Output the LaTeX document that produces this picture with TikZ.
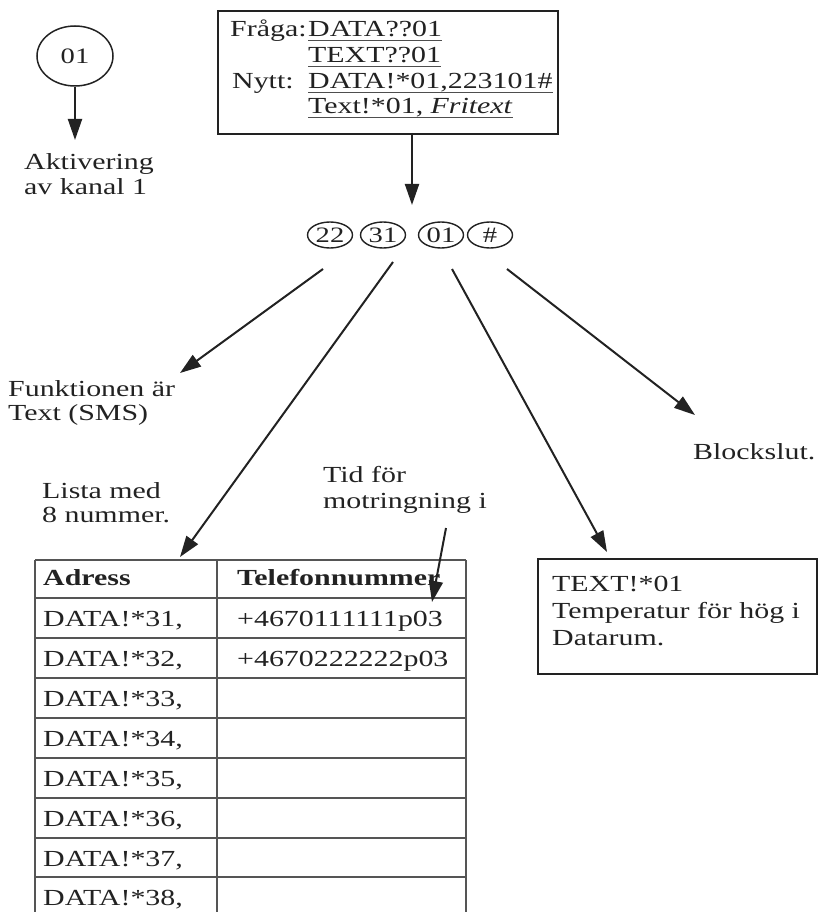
\documentclass[tikz,border=0pt]{standalone}
\usepackage{fontspec}
\setmainfont{Liberation Serif}[FakeStretch=1.3]
\usetikzlibrary{shapes.geometric,arrows.meta}
\definecolor{ink}{HTML}{222222}
\definecolor{rule}{HTML}{555555}
\tikzset{
  txt/.style={anchor=base west,inner sep=0,text=ink,font=\fontsize{23}{26}\selectfont},
  oval/.style={draw=ink,line width=1.4pt,ellipse,inner sep=0,minimum width=45,minimum height=26,text=ink,font=\fontsize{22}{26}\selectfont},
  arr/.style={draw=ink,line width=2pt,-{Triangle[length=21pt,width=14pt]}},
  frame/.style={draw=ink,line width=2.2pt,anchor=north west,inner sep=0},
  tline/.style={draw=rule,line width=1.3pt},
  uline/.style={draw=ink!80,line width=1.1pt}
}
\begin{document}
\begin{tikzpicture}[x=1pt,y=-1pt]
\useasboundingbox (0,0) rectangle (819,912);
% top question box
\node[frame,minimum width=340,minimum height=123] (q) at (217,10) {};
\node[txt] (q1a) at (230,37) {Fråga:};
\node[txt] (q1b) at (308,37) {DATA??01};
\node[txt] (q2b) at (308,63) {TEXT??01};
\node[txt] (q3a) at (232,89) {Nytt:};
\node[txt] (q3b) at (308,89) {DATA!*01,223101\#};
\node[txt] (q4b) at (308,114) {Text!*01, \textit{Fritext}};
\foreach \n in {q1b,q2b,q3b,q4b}
  \draw[uline] ([yshift=-3.5pt]\n.base west) -- ([yshift=-3.5pt]\n.base east);
\coordinate (qa) at (412,133);
\coordinate (qb) at (412,205);
\draw[arr] (qa) -- (qb);
% channel 01
\node[draw=ink,line width=1.5pt,ellipse,minimum width=76,minimum height=60,inner sep=0,text=ink,font=\fontsize{22}{26}\selectfont] (e01) at (75,56) {01};
\coordinate (ea) at (75,140);
\draw[arr] (e01.south) -- (ea);
\node[txt] (akt1) at (24,170) {Aktivering};
\node[txt] (akt2) at (24,194) {av kanal 1};
% code ovals
\node[oval] (o22) at (330,235) {22};
\node[oval] (o31) at (383,235) {31};
\node[oval] (o01) at (441,235) {01};
\node[oval] (oh) at (490,235) {\#};
\coordinate (s22) at (323,269);
\coordinate (t22) at (180,373);
\coordinate (s31) at (393,262);
\coordinate (t31) at (180,557);
\coordinate (s01) at (452,269);
\coordinate (t01) at (607,552);
\coordinate (sh) at (507,269);
\coordinate (th) at (695,415);
\draw[arr] (s22) -- (t22);
\draw[arr] (s31) -- (t31);
\draw[arr] (s01) -- (t01);
\draw[arr] (sh) -- (th);
% labels
\node[txt] (f1) at (8,396) {Funktionen är};
\node[txt] (f2) at (8,420) {Text (SMS)};
\node[txt] (l1) at (42,498) {Lista med};
\node[txt] (l2) at (42,522) {8 nummer.};
\node[txt] (tid1) at (323,482) {Tid för};
\node[txt] (tid2) at (323,508) {motringning i};
\node[txt] (bs) at (693,459) {Blockslut.};
\coordinate (ta) at (446,528);
\coordinate (tb) at (432,602);
% right text box
\node[frame,minimum width=279,minimum height=115] (tb1) at (537,558) {};
\node[txt] (r1) at (552,591) {TEXT!*01};
\node[txt] (r2) at (552,618) {Temperatur för hög i};
\node[txt] (r3) at (552,645) {Datarum.};
% table
\foreach \x in {35,217,466} \draw[tline] (\x,560) -- (\x,912);
\foreach \y in {560,598,638,678,718,758,798,838,877} \draw[tline] (35,\y) -- (466,\y);
\node[txt,font=\fontsize{23}{26}\selectfont\bfseries] (h1) at (43,585) {Adress};
\node[txt,font=\fontsize{23}{26}\selectfont\bfseries] (h2) at (237,585) {Telefonnummer};
\foreach \i/\y in {31/626,32/666,33/706,34/746,35/786,36/826,37/866,38/905}
  \node[txt] (d\i) at (43,\y) {DATA!*\i,};
\node[txt] (p1) at (237,626) {+4670111111p03};
\node[txt] (p2) at (237,666) {+4670222222p03};
\draw[arr] (ta) -- (tb);
\end{tikzpicture}
\end{document}
